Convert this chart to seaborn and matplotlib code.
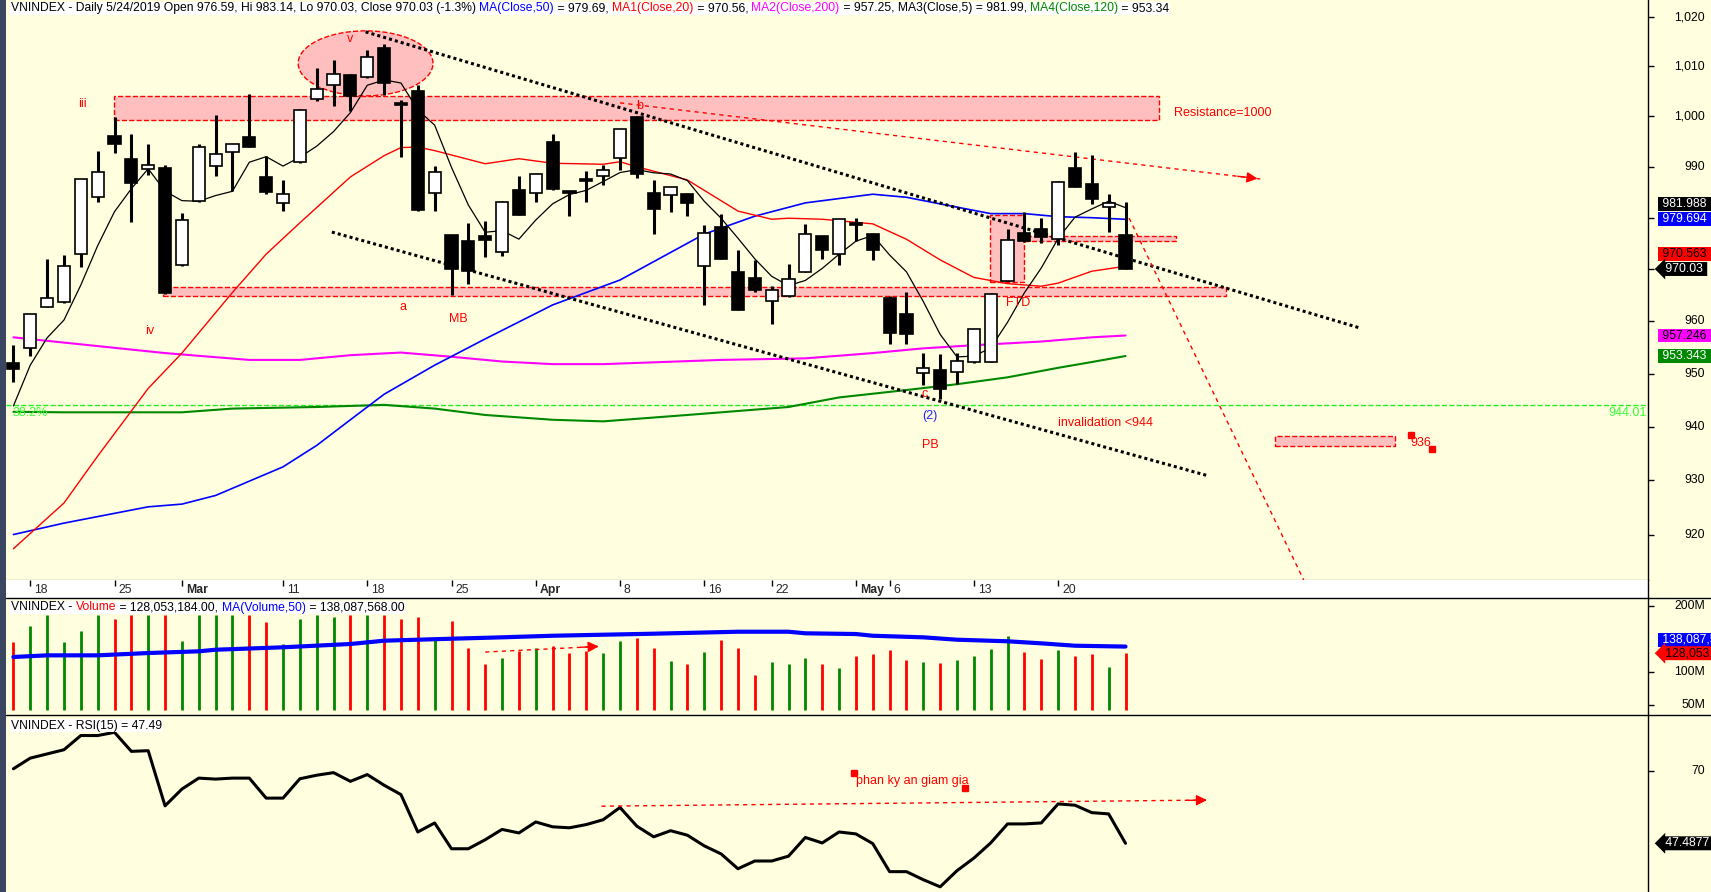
import numpy as np
import pandas as pd
import matplotlib
matplotlib.use("Agg")
import matplotlib.pyplot as plt
import seaborn as sns
from matplotlib.patches import Rectangle
from matplotlib.lines import Line2D
from matplotlib.ticker import NullLocator
from matplotlib.font_manager import FontProperties
from matplotlib.transforms import blended_transform_factory, offset_copy

# VNINDEX daily candles, 15 Feb .. 24 May 2019
opens = [952.0, 954.8, 962.8, 963.6, 972.9, 984.0, 996.1, 991.6, 989.5, 989.8,
         970.8, 983.3, 990.2, 992.9, 995.8, 987.9, 982.8, 990.9, 1003.5, 1006.3,
         1008.3, 1007.8, 1013.7, 1002.6, 1005.1, 984.8, 976.6, 975.4, 976.5, 973.4,
         985.4, 984.8, 994.9, 985.0, 987.3, 988.2, 991.7, 999.9, 984.8, 984.5,
         984.7, 970.7, 978.1, 969.4, 968.3, 963.8, 964.8, 969.5, 976.4, 972.9,
         978.7, 976.8, 964.5, 961.4, 950.1, 950.7, 950.3, 952.3, 952.3, 967.8,
         977.1, 977.8, 975.9, 989.7, 986.6, 982.1, 976.59]
highs = [955.4, 961.4, 972.0, 972.7, 987.5, 993.1, 999.9, 996.5, 994.5, 990.4,
         981.0, 994.5, 1000.3, 994.6, 1004.4, 992.1, 987.3, 1001.4, 1009.7, 1011.3,
         1008.4, 1013.4, 1014.6, 1003.3, 1006.2, 990.2, 976.6, 978.9, 979.4, 983.3,
         988.1, 988.7, 996.5, 985.3, 989.2, 990.4, 997.5, 1000.0, 987.3, 986.1,
         984.8, 978.6, 980.7, 973.7, 971.8, 966.8, 970.9, 978.8, 976.5, 979.8,
         979.9, 977.1, 964.8, 965.5, 953.9, 953.8, 953.9, 958.5, 965.4, 977.7,
         981.2, 980.0, 987.2, 992.9, 992.3, 984.7, 983.14]
lows = [948.4, 953.4, 962.8, 963.5, 970.5, 983.0, 992.8, 979.2, 988.3, 965.2,
        970.7, 983.1, 988.1, 985.3, 993.9, 984.6, 981.4, 990.7, 1003.1, 1002.1,
        1001.1, 1007.7, 1004.3, 992.0, 981.4, 981.4, 965.0, 967.1, 972.4, 972.5,
        980.5, 983.0, 985.4, 980.4, 983.0, 986.5, 989.4, 987.8, 976.8, 981.2,
        980.4, 963.1, 971.9, 962.1, 965.5, 959.5, 964.7, 969.4, 971.9, 970.8,
        975.5, 971.8, 955.6, 955.6, 947.9, 945.2, 948.0, 952.0, 952.2, 967.7,
        975.3, 975.0, 974.7, 986.0, 982.6, 977.3, 970.03]
closes = [950.8, 961.3, 964.4, 970.6, 987.5, 988.9, 994.5, 986.9, 990.3, 965.4,
          979.6, 993.9, 992.5, 994.5, 994.0, 985.1, 984.6, 1001.3, 1005.4, 1008.5,
          1004.0, 1011.9, 1006.7, 1002.3, 981.5, 988.9, 970.0, 969.7, 975.7, 983.1,
          980.6, 988.6, 985.6, 984.8, 987.2, 989.3, 997.4, 988.5, 981.7, 986.0,
          982.8, 977.1, 971.9, 962.2, 966.0, 965.9, 968.1, 976.9, 973.8, 979.7,
          978.6, 973.8, 957.8, 957.5, 951.1, 947.1, 952.4, 958.5, 965.3, 975.6,
          975.4, 976.3, 987.1, 986.1, 983.7, 982.9, 970.03]
# volume in millions
volume_m = [145.0, 168.8, 186, 145.0, 161.2, 186, 179.8, 186, 186, 186,
            146.1, 186, 186, 186, 186, 175.3, 142.0, 179.4, 186, 182.4,
            186, 186, 186, 179.8, 182.4, 150.0, 176.3, 135.9, 111.7, 120.8,
            131.8, 135.9, 138.5, 128.3, 131.8, 128.3, 147.0, 151.1, 135.9, 116.7,
            111.7, 129.8, 148.0, 135.9, 95.5, 114.7, 111.7, 120.8, 111.7, 105.6,
            123.8, 126.8, 132.9, 118.2, 114.7, 113.2, 117.7, 123.8, 134.4, 154.5,
            129.8, 119.2, 132.9, 123.8, 126.8, 107.1, 128.05]
rsi15 = [70.6, 73.9, 75.2, 76.5, 80.9, 80.9, 81.9, 76.0, 76.2, 59.1,
         64.3, 67.7, 67.4, 67.7, 67.7, 61.5, 61.5, 67.5, 68.6, 69.4,
         66.7, 68.8, 65.5, 62.6, 51.0, 53.8, 45.8, 45.8, 48.6, 51.8,
         50.7, 54.1, 52.6, 52.3, 53.3, 54.8, 58.6, 52.8, 49.5, 51.4,
         50.0, 46.7, 44.2, 39.6, 42.0, 42.0, 43.5, 49.3, 47.6, 51.0,
         50.4, 47.4, 38.7, 38.7, 36.2, 34.0, 39.0, 42.9, 47.6, 53.5,
         53.5, 53.8, 59.7, 59.3, 57.0, 56.6, 47.49]

# moving averages (sampled off the chart at these bars)
ma5_head = [943.9, 951.6, 956.8, 960.2]
ma20_bar = [0, 3, 5, 8, 10, 13, 15, 17, 20, 22, 23, 24, 25, 28, 30, 32, 35, 36, 37,
            40, 43, 45, 46, 48, 51, 53, 55, 57, 59, 61, 62, 64, 66]
ma20_val = [917.4, 925.8, 934.5, 947.2, 953.9, 965.5, 972.9, 979.0, 988.0, 992.2,
            993.8, 993.9, 993.2, 990.6, 991.6, 990.7, 990.5, 991.0, 990.0, 987.4,
            981.3, 979.7, 979.9, 979.7, 978.8, 975.8, 971.8, 968.4, 967.2, 966.7,
            967.3, 969.6, 970.56]
ma50_bar = [0, 3, 8, 10, 12, 16, 18, 20, 22, 25, 28, 32, 36, 41, 44, 47, 51, 53, 55,
            58, 60, 62, 64, 66]
ma50_val = [920.0, 922.1, 925.1, 925.6, 927.2, 932.5, 936.5, 941.3, 946.1, 951.6,
            956.6, 963.1, 967.9, 976.8, 980.3, 982.9, 984.6, 984.0, 982.7, 980.8,
            980.8, 980.2, 980.0, 979.69]
ma200_bar = [0, 3, 9, 14, 17, 20, 23, 26, 29, 32, 35, 42, 47, 51, 54, 57, 61, 64, 66]
ma200_val = [956.9, 955.9, 953.9, 952.6, 952.6, 953.5, 954.0, 953.2, 952.3, 951.8,
             951.8, 952.6, 952.9, 953.9, 954.8, 955.4, 956.1, 956.9, 957.25]
ma120_bar = [0, 3, 10, 13, 18, 22, 25, 28, 32, 35, 40, 46, 49, 53, 56, 59, 62, 64, 66]
ma120_val = [942.8, 942.7, 942.7, 943.4, 943.7, 944.1, 943.4, 942.2, 941.3, 941.0,
             942.2, 943.7, 945.5, 946.9, 948.0, 949.3, 951.1, 952.2, 953.34]
vma_bar = [0, 2, 5, 8, 11, 12, 16, 20, 22, 26, 29, 32, 38, 43, 46, 47, 50, 51, 54,
           56, 59, 61, 63, 66]
vma_val = [122.3, 124.8, 124.8, 128.3, 130.9, 133.3, 137.0, 142.0, 147.0, 150.0,
           152.1, 154.5, 157.6, 160.6, 160.6, 158.2, 157.1, 154.5, 152.1, 148.5,
           146.1, 143.0, 139.4, 138.09]

tick_bars = [1, 6, 10, 16, 21, 26, 31, 36, 41, 45, 50, 52, 57, 62]
tick_labels = ["18", "25", "Mar", "11", "18", "25", "Apr", "8", "16", "22", "May", "6", "13", "20"]
month_labels = ["Mar", "Apr", "May"]

price_ticks = [1020, 1010, 1000, 990, 980, 970, 960, 950, 940, 930, 920]
hidden_price_labels = [980, 970]   # covered by the value tags on the reference
vol_ticks = [200, 100, 50]

# drawn annotations: (x0, x1, y0, y1) in bars / price
pink_boxes = [(5.95, 68.0, 999.2, 1004.0), (8.9, 71.96, 964.8, 966.5),
              (57.96, 59.95, 967.6, 980.5), (59.95, 69.0, 975.4, 976.4),
              (74.9, 82.0, 936.4, 938.3)]
ellipse_cx, ellipse_rx, ellipse_top, ellipse_bottom = 20.9, 4.0, 1017.2, 1004.1
dotted_lines = [((20.9, 79.9), (1017.0, 958.7)), ((18.9, 70.95), (977.2, 930.8))]
fib_level = 944.01
labels = [("iii", 4.09, 1002.5), ("v", 19.97, 1015.5), ("iv", 8.1, 958.1),
          ("a", 23.1, 962.8), ("MB", 26.4, 960.4), ("b", 37.15, 1002.1),
          ("FTD", 59.6, 963.5), ("c", 54.1, 946.1), ("PB", 54.4, 936.5),
          ("936", 83.5, 937.0)]

W, H = 1711, 892
BG = "#FFFFE0"
PINK = "#FFBFBF"
FS = 8.8
FS_TITLE = 8.7

sns.set_style("white")
plt.rcParams["font.family"] = ["Liberation Sans", "DejaVu Sans"]

fig = plt.figure(figsize=(W / 100, H / 100), dpi=100, facecolor=BG)
X0, X1 = 6, 1648
BAR0, STEP = 13.4, 16.85


def panel(y0, y1):
    a = fig.add_axes([X0 / W, 1 - y1 / H, (X1 - X0) / W, (y1 - y0) / H])
    a.set_facecolor(BG)
    a.set_xlim((X0 - BAR0) / STEP, (X1 - BAR0) / STEP)
    a.set_xticks([])
    for s in ["left", "top", "bottom"]:
        a.spines[s].set_visible(False)
    a.spines["right"].set_color("black")
    a.spines["right"].set_linewidth(1)
    return a


ax = panel(0, 580)
axd = panel(580, 598)
axv = panel(598, 715)
axr = panel(715, 892)
ax.spines["bottom"].set_visible(True)
ax.spines["bottom"].set_color("black")
axd.set_facecolor("white")
axd.set_ylim(0, 1)
axd.set_yticks([])

fig.add_artist(Rectangle((0, 0), X0 / W, 1, transform=fig.transFigure, fc="#3A4560", ec="none"))
for yy in [598, 715]:
    fig.add_artist(Line2D([X0 / W, 1], [1 - yy / H, 1 - yy / H], color="black", lw=1))

df = pd.DataFrame({"bar": np.arange(len(closes)), "open": opens, "high": highs,
                   "low": lows, "close": closes, "vol": volume_m, "rsi": rsi15})
df["up"] = df["close"] >= df["open"]
ma5 = df["close"].rolling(5).mean()
ma5.iloc[:4] = ma5_head

# ---------- price panel ----------
ax.set_yscale("log")
for x0, x1, y0, y1 in pink_boxes:
    ax.add_patch(Rectangle((x0, y0), x1 - x0, y1 - y0, fc=PINK, ec="red", ls="--", lw=1, zorder=1))
t = np.linspace(0, 2 * np.pi, 200)
cy = np.sqrt(ellipse_top * ellipse_bottom)
ry = (np.log(ellipse_top) - np.log(ellipse_bottom)) / 2
ax.fill(ellipse_cx + ellipse_rx * np.cos(t), np.exp(np.log(cy) + ry * np.sin(t)),
        fc=PINK, ec="red", ls="--", lw=1, zorder=1)

ax.axhline(fib_level, color="#22EE22", ls="--", lw=1, zorder=2)
sns.lineplot(x=ma200_bar, y=ma200_val, ax=ax, color="#FF00FF", lw=1.5, zorder=2)
sns.lineplot(x=ma120_bar, y=ma120_val, ax=ax, color="#008800", lw=1.5, zorder=2)
sns.lineplot(x=ma50_bar, y=ma50_val, ax=ax, color="#0000FF", lw=1.2, zorder=2)
sns.lineplot(x=ma20_bar, y=ma20_val, ax=ax, color="#FF0000", lw=1.0, zorder=2)
sns.lineplot(x=df["bar"], y=ma5, ax=ax, color="black", lw=0.9, zorder=3)

for xs, ys in dotted_lines:
    ax.plot(xs, ys, color="black", ls=(0, (1, 1)), lw=2.2, zorder=3)
ax.plot([36.0, 74.0], [1002.7, 987.6], color="red", ls=(0, (3, 3)), lw=1, zorder=3)
ax.annotate("", xy=(74.0, 987.6), xytext=(72.5, 988.2),
            arrowprops=dict(arrowstyle="-|>", color="red", lw=1, mutation_scale=16), zorder=3)
ax.plot([66, 77], [981.4, 909.0], color="red", ls=(0, (3, 3)), lw=1, zorder=3)

ax.vlines(df["bar"], df["low"], df["high"], color="black", lw=2.2, zorder=5)
body_lo = df[["open", "close"]].min(axis=1)
body_h = (df["close"] - df["open"]).abs().clip(lower=0.45)
ax.bar(df["bar"], body_h, bottom=body_lo, width=0.72,
       color=np.where(df["up"], "white", "black"), edgecolor="black", linewidth=1.2, zorder=6)

for txt, bx, py in labels:
    ax.text(bx, py, txt, color="red", fontsize=9, ha="center", va="center", zorder=7)
ax.text(54.4, 942.1, "(2)", color="#2020FF", fontsize=9, ha="center", va="center", zorder=7)
ax.text(68.9, 1000.6, "Resistance=1000", color="red", fontsize=9, ha="left", va="center")
ax.text(62.0, 940.7, "invalidation <944", color="red", fontsize=9, ha="left", va="center")
ax.text(-0.07, 942.6, "38.2%", color="#33FF33", fontsize=9, ha="left", va="center")
ax.text(96.95, 942.5, "944.01", color="#33FF33", fontsize=9, ha="right", va="center")
ax.plot([82.96, 84.2], [938.5, 935.8], "s", color="red", ms=4.5, zorder=7)

ax.set_ylim(911.7, 1023.48)
ax.set_ylabel("")
ax.set_xlabel("")


def right_ticks(a, values, texts, hidden=()):
    a.yaxis.tick_right()
    a.set_yticks(values)
    a.yaxis.set_minor_locator(NullLocator())
    a.tick_params(axis="y", which="both", right=True, left=False, length=4, width=1,
                  direction="out", color="black", labelright=False, labelleft=False)
    tr = blended_transform_factory(fig.transFigure, a.transData)
    for v, s in zip(values, texts):
        if v in hidden:
            continue
        a.text(1705 / W, v, s, transform=tr, ha="right", va="center", fontsize=FS, color="black")


def tag(a, value, text, fc, tc, dy=0, arrow=False):
    tr = offset_copy(blended_transform_factory(fig.transFigure, a.transData), fig=fig,
                     x=0, y=dy, units="dots")
    style = "larrow,pad=0.08" if arrow else "square,pad=0.08"
    a.text((1662 if arrow else 1659) / W, value, " " + text + " ", transform=tr, ha="left",
           va="center", fontsize=FS, color=tc, zorder=10,
           bbox=dict(boxstyle=style, fc=fc, ec="none"))


right_ticks(ax, price_ticks, [f"{v:,}" for v in price_ticks], hidden=hidden_price_labels)
tag(ax, 981.988, "981.988", "black", "white", dy=3.5)
tag(ax, 979.694, "979.694", "#0000FF", "white")
tag(ax, 970.563, "970.563", "#FF0000", "black", dy=12)
tag(ax, 970.03, "970.03", "black", "white", arrow=True)
tag(ax, 957.246, "957.246", "#FF00FF", "black")
tag(ax, 953.343, "953.343", "#008800", "white")

# ---------- date strip ----------
axd.vlines(tick_bars, 0.68, 1.0, color="black", lw=1)
for b, s in zip(tick_bars, tick_labels):
    axd.text(b, 0.42, s, transform=offset_copy(axd.transData, fig=fig, x=4, units="dots"),
             ha="left", va="center", fontsize=FS,
             fontweight="bold" if s in month_labels else "normal")

# ---------- volume panel ----------
axv.set_ylim(34.4, 211.7)
axv.vlines(df["bar"], 42.4, df["vol"], colors=np.where(df["up"], "#008800", "#FF0000"), lw=2.0)
sns.lineplot(x=vma_bar, y=vma_val, ax=axv, color="#0000FF", lw=3)
axv.plot([28.0, 34.9], [129.8, 138.5], color="red", ls=(0, (3, 3)), lw=1)
axv.annotate("", xy=(34.9, 138.5), xytext=(33.5, 136.9),
             arrowprops=dict(arrowstyle="-|>", color="red", lw=1, mutation_scale=16))
axv.set_ylabel("")
right_ticks(axv, vol_ticks, [f"{v}M" for v in vol_ticks])
tag(axv, 138.09, "138,087,568", "#0000FF", "white", dy=7)
tag(axv, 128.05, "128,053,184", "#FF0000", "black", arrow=True)

# ---------- RSI panel ----------
axr.set_ylim(32.39, 87.27)
sns.lineplot(x=df["bar"], y=df["rsi"], ax=axr, color="black", lw=2.2)
axr.plot([34.9, 71.0], [59.0, 60.9], color="red", ls=(0, (3, 3)), lw=1)
axr.annotate("", xy=(71.0, 60.9), xytext=(69.5, 60.8),
             arrowprops=dict(arrowstyle="-|>", color="red", lw=1, mutation_scale=16))
axr.plot([49.9, 56.5], [69.3, 64.6], "s", color="red", ms=4.5)
axr.text(50.0, 66.9, "phan ky an giam gia", color="red", fontsize=9, ha="left", va="center")
axr.set_ylabel("")
axr.set_xlabel("")
right_ticks(axr, [70], ["70"])
tag(axr, 47.49, "47.4877", "black", "white", arrow=True)

# ---------- coloured titles ----------
renderer = fig.canvas.get_renderer()
fp = FontProperties(family=plt.rcParams["font.family"], size=FS_TITLE)


def text_w(s):
    return renderer.get_text_width_height_descent(s, fp, ismath=False)[0]


def chain_text(x_px, y_px, pieces):
    prefix = ""
    for s, c in pieces:
        x = x_px + (text_w(prefix + "|") - text_w("|") if prefix else 0)
        fig.text(x / W, 1 - y_px / H, s, color=c, fontsize=FS_TITLE, ha="left", va="center",
                 zorder=20, bbox=dict(fc="white", ec="none", pad=0.6))
        prefix += s


chain_text(11, 8.5, [
    ("VNINDEX - Daily 5/24/2019 Open 976.59, Hi 983.14, Lo 970.03, Close 970.03 (-1.3%) ", "black"),
    ("MA(Close,50)", "#0000FF"), (" = 979.69, ", "black"),
    ("MA1(Close,20)", "#FF0000"), (" = 970.56, ", "black"),
    ("MA2(Close,200)", "#FF00FF"), (" = 957.25, MA3(Close,5) = 981.99, ", "black"),
    ("MA4(Close,120)", "#008800"), (" = 953.34", "black")])
chain_text(11, 607.5, [("VNINDEX - ", "black"), ("Volume", "#FF0000"),
                       (" = 128,053,184.00, ", "black"), ("MA(Volume,50)", "#0000FF"),
                       (" = 138,087,568.00", "black")])
chain_text(11, 725.5, [("VNINDEX - RSI(15) = 47.49", "black")])

fig.savefig("out.png", dpi=100, facecolor=BG)
